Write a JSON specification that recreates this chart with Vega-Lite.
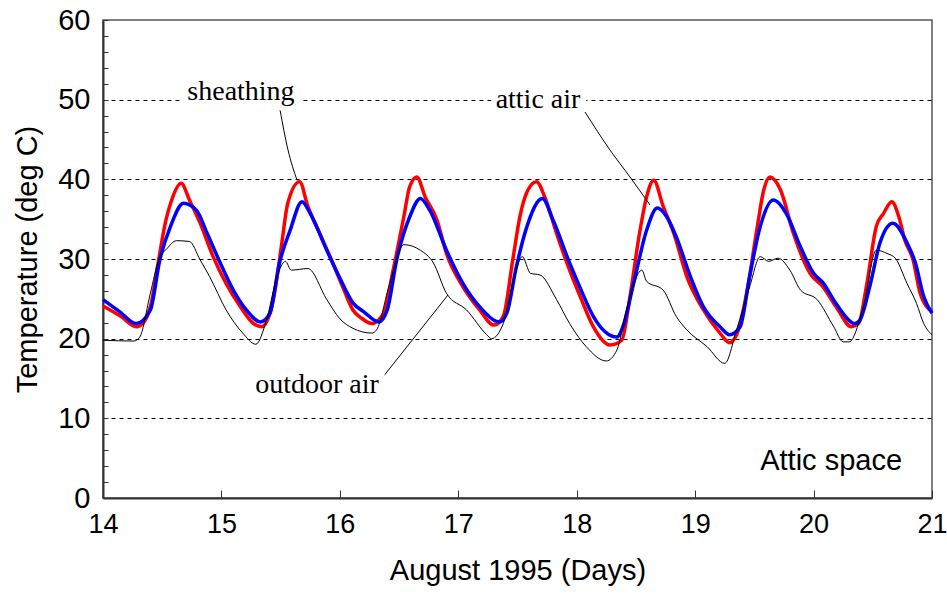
{
  "$schema": "https://vega.github.io/schema/vega-lite/v6.json",
  "width": 829,
  "height": 478,
  "autosize": {"type": "none"},
  "padding": {"left": 103, "top": 20, "right": 15, "bottom": 96},
  "background": "white",
  "config": {
    "view": {"stroke": "#555555", "strokeWidth": 1.5},
    "axis": {"labelFont": "Liberation Sans", "titleFont": "Liberation Sans", "labelColor": "black", "titleColor": "black", "domainColor": "#333333", "tickColor": "#333333"}
  },
  "datasets": {
    "sheathing": [
      {"day": 14.00, "temp": 24.1}, {"day": 14.15, "temp": 22.8}, {"day": 14.28, "temp": 21.5}, {"day": 14.34, "temp": 22.0},
      {"day": 14.40, "temp": 24.0}, {"day": 14.47, "temp": 29.9}, {"day": 14.52, "temp": 34.1}, {"day": 14.58, "temp": 37.4},
      {"day": 14.66, "temp": 39.5}, {"day": 14.73, "temp": 37.4}, {"day": 14.82, "temp": 34.5}, {"day": 14.93, "temp": 30.3},
      {"day": 15.04, "temp": 26.9}, {"day": 15.16, "temp": 24.0}, {"day": 15.27, "temp": 21.9}, {"day": 15.34, "temp": 21.5},
      {"day": 15.41, "temp": 23.2}, {"day": 15.47, "temp": 27.8}, {"day": 15.51, "temp": 32.0}, {"day": 15.56, "temp": 37.0},
      {"day": 15.66, "temp": 39.7}, {"day": 15.73, "temp": 36.6}, {"day": 15.83, "temp": 33.2}, {"day": 15.94, "temp": 29.5},
      {"day": 16.03, "temp": 26.3}, {"day": 16.11, "temp": 23.6}, {"day": 16.18, "temp": 22.6}, {"day": 16.27, "temp": 21.9},
      {"day": 16.37, "temp": 23.2}, {"day": 16.45, "temp": 28.6}, {"day": 16.54, "temp": 35.3}, {"day": 16.59, "temp": 39.1},
      {"day": 16.65, "temp": 40.3}, {"day": 16.72, "temp": 37.8}, {"day": 16.82, "temp": 34.9}, {"day": 16.90, "temp": 30.7},
      {"day": 17.04, "temp": 26.5}, {"day": 17.18, "temp": 23.6}, {"day": 17.30, "temp": 21.7}, {"day": 17.38, "temp": 22.8},
      {"day": 17.46, "temp": 29.9}, {"day": 17.52, "temp": 35.3}, {"day": 17.58, "temp": 38.4}, {"day": 17.66, "temp": 39.7},
      {"day": 17.73, "temp": 37.8}, {"day": 17.83, "temp": 33.2}, {"day": 17.94, "temp": 28.6}, {"day": 18.04, "temp": 24.9},
      {"day": 18.14, "temp": 21.5}, {"day": 18.28, "temp": 19.2}, {"day": 18.38, "temp": 19.8}, {"day": 18.45, "temp": 25.3},
      {"day": 18.53, "temp": 33.2}, {"day": 18.59, "temp": 37.8}, {"day": 18.65, "temp": 39.9}, {"day": 18.73, "temp": 36.6},
      {"day": 18.82, "temp": 33.2}, {"day": 18.93, "temp": 27.8}, {"day": 19.07, "temp": 23.6}, {"day": 19.21, "temp": 20.7},
      {"day": 19.29, "temp": 19.5}, {"day": 19.35, "temp": 20.5}, {"day": 19.44, "temp": 26.1}, {"day": 19.52, "temp": 33.6},
      {"day": 19.58, "temp": 38.7}, {"day": 19.63, "temp": 40.3}, {"day": 19.72, "temp": 38.7}, {"day": 19.83, "temp": 33.2},
      {"day": 19.97, "temp": 28.2}, {"day": 20.08, "temp": 26.5}, {"day": 20.19, "temp": 24.0}, {"day": 20.32, "temp": 21.5},
      {"day": 20.38, "temp": 21.9}, {"day": 20.45, "temp": 26.9}, {"day": 20.53, "temp": 34.1}, {"day": 20.59, "temp": 35.7},
      {"day": 20.66, "temp": 37.2}, {"day": 20.72, "temp": 35.3}, {"day": 20.77, "temp": 32.4}, {"day": 20.84, "temp": 29.9},
      {"day": 20.90, "temp": 25.7}, {"day": 21.00, "temp": 23.4}
    ],
    "attic": [
      {"day": 14.00, "temp": 24.9}, {"day": 14.14, "temp": 23.4}, {"day": 14.28, "temp": 21.9}, {"day": 14.40, "temp": 23.6},
      {"day": 14.48, "temp": 29.9}, {"day": 14.57, "temp": 34.1}, {"day": 14.68, "temp": 37.0}, {"day": 14.79, "temp": 36.1},
      {"day": 14.88, "temp": 33.2}, {"day": 14.99, "temp": 29.5}, {"day": 15.10, "temp": 26.1}, {"day": 15.21, "temp": 23.6},
      {"day": 15.33, "temp": 22.1}, {"day": 15.41, "temp": 23.2}, {"day": 15.49, "temp": 29.5}, {"day": 15.58, "temp": 33.6},
      {"day": 15.68, "temp": 37.2}, {"day": 15.75, "temp": 35.7}, {"day": 15.89, "temp": 31.1}, {"day": 16.00, "temp": 27.6},
      {"day": 16.11, "temp": 24.5}, {"day": 16.20, "temp": 23.4}, {"day": 16.33, "temp": 22.1}, {"day": 16.40, "temp": 23.6},
      {"day": 16.48, "temp": 29.9}, {"day": 16.59, "temp": 35.3}, {"day": 16.68, "temp": 37.6}, {"day": 16.76, "temp": 36.1},
      {"day": 16.90, "temp": 31.1}, {"day": 17.04, "temp": 26.9}, {"day": 17.18, "temp": 24.0}, {"day": 17.35, "temp": 22.1},
      {"day": 17.41, "temp": 23.2}, {"day": 17.49, "temp": 29.0}, {"day": 17.58, "temp": 34.1}, {"day": 17.71, "temp": 37.6},
      {"day": 17.80, "temp": 34.9}, {"day": 17.94, "temp": 29.5}, {"day": 18.04, "temp": 26.0}, {"day": 18.14, "temp": 22.8},
      {"day": 18.34, "temp": 20.2}, {"day": 18.39, "temp": 21.5}, {"day": 18.48, "temp": 26.9}, {"day": 18.59, "temp": 33.6},
      {"day": 18.68, "temp": 36.4}, {"day": 18.76, "temp": 35.3}, {"day": 18.84, "temp": 32.8}, {"day": 18.96, "temp": 27.8},
      {"day": 19.07, "temp": 24.0}, {"day": 19.21, "temp": 21.5}, {"day": 19.29, "temp": 20.5}, {"day": 19.38, "temp": 21.5},
      {"day": 19.46, "temp": 27.8}, {"day": 19.55, "temp": 34.1}, {"day": 19.66, "temp": 37.4}, {"day": 19.77, "temp": 35.7},
      {"day": 19.89, "temp": 31.5}, {"day": 20.00, "temp": 28.2}, {"day": 20.08, "temp": 27.0}, {"day": 20.19, "temp": 24.4},
      {"day": 20.35, "temp": 21.9}, {"day": 20.39, "temp": 22.3}, {"day": 20.48, "temp": 26.9}, {"day": 20.56, "temp": 32.0},
      {"day": 20.67, "temp": 34.5}, {"day": 20.79, "temp": 32.0}, {"day": 20.86, "temp": 29.5}, {"day": 20.93, "temp": 25.3},
      {"day": 21.00, "temp": 23.2}
    ],
    "outdoor": [
      {"day": 14.00, "temp": 19.8}, {"day": 14.26, "temp": 19.7}, {"day": 14.31, "temp": 20.2}, {"day": 14.40, "temp": 25.7},
      {"day": 14.47, "temp": 29.9}, {"day": 14.54, "temp": 31.3}, {"day": 14.62, "temp": 32.3}, {"day": 14.73, "temp": 32.2},
      {"day": 14.82, "temp": 29.9}, {"day": 14.90, "temp": 27.8}, {"day": 15.04, "temp": 23.6}, {"day": 15.18, "temp": 20.7},
      {"day": 15.29, "temp": 19.3}, {"day": 15.38, "temp": 22.3}, {"day": 15.47, "temp": 27.8}, {"day": 15.54, "temp": 29.7},
      {"day": 15.59, "temp": 28.6}, {"day": 15.73, "temp": 28.8}, {"day": 15.89, "temp": 24.9}, {"day": 16.00, "temp": 22.5},
      {"day": 16.11, "temp": 21.3}, {"day": 16.27, "temp": 20.7}, {"day": 16.31, "temp": 21.1}, {"day": 16.42, "temp": 26.9},
      {"day": 16.54, "temp": 31.8}, {"day": 16.68, "temp": 31.1}, {"day": 16.79, "temp": 29.5}, {"day": 16.90, "temp": 25.7},
      {"day": 17.07, "temp": 23.6}, {"day": 17.24, "temp": 20.5}, {"day": 17.28, "temp": 20.0}, {"day": 17.38, "temp": 21.9},
      {"day": 17.46, "temp": 26.9}, {"day": 17.54, "temp": 30.3}, {"day": 17.61, "temp": 28.2}, {"day": 17.69, "temp": 28.0},
      {"day": 17.83, "temp": 24.9}, {"day": 17.94, "temp": 21.9}, {"day": 18.08, "temp": 19.0}, {"day": 18.25, "temp": 17.2},
      {"day": 18.34, "temp": 18.6}, {"day": 18.42, "temp": 23.6}, {"day": 18.55, "temp": 28.6}, {"day": 18.59, "temp": 27.2},
      {"day": 18.73, "temp": 26.1}, {"day": 18.84, "temp": 22.8}, {"day": 18.93, "temp": 21.1}, {"day": 19.10, "temp": 19.0},
      {"day": 19.25, "temp": 16.9}, {"day": 19.35, "temp": 21.1}, {"day": 19.46, "temp": 26.5}, {"day": 19.55, "temp": 30.3},
      {"day": 19.62, "temp": 29.7}, {"day": 19.70, "temp": 30.1}, {"day": 19.80, "temp": 28.6}, {"day": 19.89, "temp": 26.1},
      {"day": 20.03, "temp": 24.9}, {"day": 20.17, "temp": 21.5}, {"day": 20.25, "temp": 19.6}, {"day": 20.30, "temp": 19.6},
      {"day": 20.42, "temp": 24.0}, {"day": 20.53, "temp": 31.1}, {"day": 20.62, "temp": 30.7}, {"day": 20.69, "temp": 30.1},
      {"day": 20.79, "temp": 26.9}, {"day": 20.87, "temp": 24.4}, {"day": 20.93, "temp": 21.9}, {"day": 21.00, "temp": 20.5}
    ],
    "leaders": [
      {"leader": "sheathing", "day": 15.495, "temp": 48.7}, {"leader": "sheathing", "day": 15.562, "temp": 43.7}, {"leader": "sheathing", "day": 15.638, "temp": 39.9},
      {"leader": "attic air", "day": 18.07, "temp": 48.45}, {"leader": "attic air", "day": 18.281, "temp": 43.68}, {"leader": "attic air", "day": 18.45, "temp": 40.29}, {"leader": "attic air", "day": 18.619, "temp": 36.78},
      {"leader": "outdoor air", "day": 16.364, "temp": 15.19}, {"leader": "outdoor air", "day": 16.913, "temp": 25.48}
    ],
    "labels": [
      {"label": "sheathing", "day": 15.165, "temp": 49.96},
      {"label": "attic air", "day": 17.673, "temp": 48.95},
      {"label": "outdoor air", "day": 15.807, "temp": 13.18}
    ],
    "note": [
      {"label": "Attic space", "day": 20.747, "temp": 3.51}
    ]
  },
  "encoding": {
    "x": {
      "field": "day", "type": "quantitative",
      "scale": {"domain": [14, 21], "nice": false, "zero": false},
      "axis": {
        "title": "August 1995 (Days)",
        "values": [14, 14.25, 14.5, 14.75, 15, 15.25, 15.5, 15.75, 16, 16.25, 16.5, 16.75, 17, 17.25, 17.5, 17.75, 18, 18.25, 18.5, 18.75, 19, 19.25, 19.5, 19.75, 20, 20.25, 20.5, 20.75, 21],
        "format": "d",
        "labelExpr": "datum.value % 1 === 0 ? datum.label : ''",
        "labelFontSize": 27, "titleFontSize": 29, "titleFontWeight": "normal",
        "labelFlush": false, "labelOverlap": false,
        "labelPadding": 21, "titlePadding": 19,
        "tickSize": {"condition": {"test": "datum.value % 1 === 0", "value": -8}, "value": -5},
        "domainWidth": 2, "grid": false
      }
    },
    "y": {
      "field": "temp", "type": "quantitative",
      "scale": {"domain": [0, 60], "nice": false, "zero": false},
      "axis": {
        "title": "Temperature (deg C)",
        "values": [0, 2, 4, 6, 8, 10, 12, 14, 16, 18, 20, 22, 24, 26, 28, 30, 32, 34, 36, 38, 40, 42, 44, 46, 48, 50, 52, 54, 56, 58, 60],
        "format": "d",
        "labelExpr": "datum.value % 10 === 0 ? datum.label : ''",
        "labelFontSize": 29, "titleFontSize": 29, "titleFontWeight": "normal",
        "labelFlush": false, "labelOverlap": false,
        "labelPadding": 18, "titlePadding": 15,
        "tickSize": -5,
        "domainWidth": 2,
        "grid": true, "gridColor": "black", "gridDash": [4, 4], "gridWidth": 1,
        "gridOpacity": {"condition": {"test": "datum.value % 10 === 0 && datum.value > 0 && datum.value < 60", "value": 1}, "value": 0}
      }
    }
  },
  "layer": [
    {"data": {"name": "sheathing"}, "mark": {"type": "line", "color": "#FF0000", "strokeWidth": 3.5, "interpolate": "monotone"}},
    {"data": {"name": "attic"}, "mark": {"type": "line", "color": "#0000FF", "strokeWidth": 3.5, "interpolate": "monotone"}},
    {"data": {"name": "outdoor"}, "mark": {"type": "line", "color": "black", "strokeWidth": 1, "interpolate": "monotone"}},
    {"data": {"name": "leaders"}, "mark": {"type": "line", "color": "black", "strokeWidth": 1, "interpolate": "monotone"}, "encoding": {"detail": {"field": "leader"}}},
    {"data": {"name": "labels"}, "mark": {"type": "text", "font": "Liberation Serif", "fontSize": 28, "align": "center", "baseline": "alphabetic", "fill": "white", "stroke": "white", "strokeWidth": 12}, "encoding": {"text": {"field": "label"}}},
    {"data": {"name": "labels"}, "mark": {"type": "text", "font": "Liberation Serif", "fontSize": 28, "align": "center", "baseline": "alphabetic", "color": "black"}, "encoding": {"text": {"field": "label"}}},
    {"data": {"name": "note"}, "mark": {"type": "text", "font": "Liberation Sans", "fontSize": 29, "align": "right", "baseline": "alphabetic", "color": "black"}, "encoding": {"text": {"field": "label"}}}
  ]
}
